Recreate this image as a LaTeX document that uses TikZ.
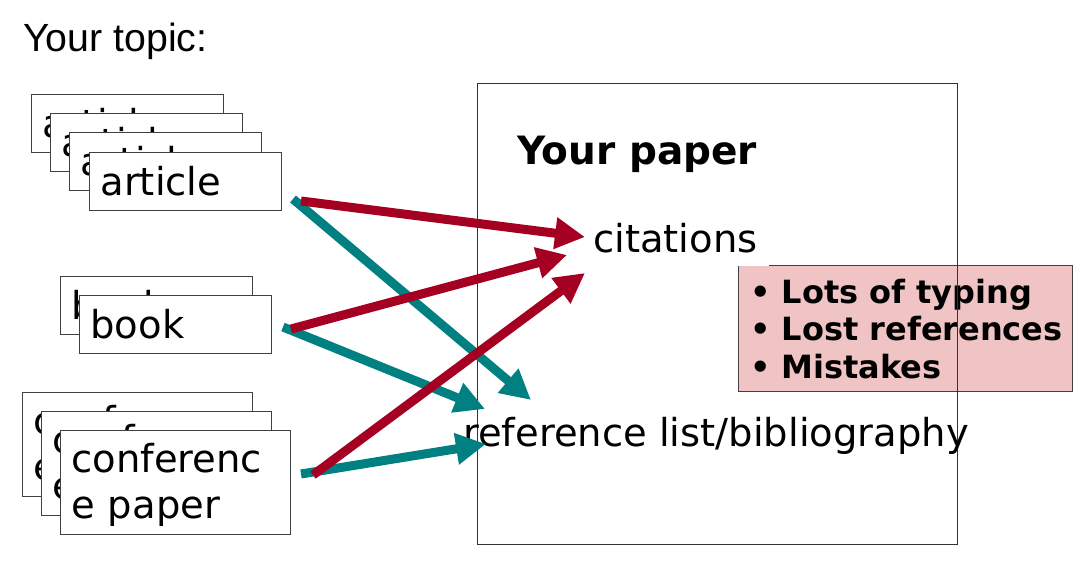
\documentclass[tikz,border=0pt]{standalone}
\usepackage{fontspec}
\setmainfont{DejaVu Sans}
\newfontfamily\topicfont{Liberation Sans}
\usetikzlibrary{arrows.meta}
\definecolor{citered}{HTML}{A50021}
\definecolor{listteal}{HTML}{008080}
\definecolor{issuepink}{RGB}{240,196,196}
\begin{document}
\begin{tikzpicture}[x=1pt,y=-1pt,
    srcbox/.style={draw=black!75, line width=1pt, fill=white, anchor=north west, inner xsep=11pt, inner ysep=0pt, align=left, font=\fontsize{38.5}{46}\selectfont},
    smallsrc/.style={srcbox, text width=170pt, minimum height=58pt},
    bigsrc/.style={srcbox, text width=208pt, minimum height=104pt, text height=35pt},
    bigtext/.style={inner sep=0pt, anchor=base west, font=\fontsize{38.5}{46}\selectfont},
    citearrow/.style={-{Triangle[length=30pt,width=30pt]}, line width=9pt, citered},
    listarrow/.style={-{Triangle[length=30pt,width=30pt]}, line width=9pt, listteal}]
        \useasboundingbox (0,0) rectangle (1078,585);

        \node[draw=black!75, line width=1pt, fill=issuepink, minimum width=334pt, minimum height=126pt, anchor=north west, inner sep=0pt] at (738,265) (issues) {};
        \node[inner sep=0pt, anchor=base west, align=left, font=\fontsize{32}{37.5}\selectfont\bfseries] at (750,378) (issuelist) {• Lots of typing\\• Lost references\\• Mistakes};
        \node[draw=black!80, line width=1pt, minimum width=480pt, minimum height=461pt, anchor=north west, inner sep=0pt] at (477,83) (paper) {};
        \node[bigtext, font=\fontsize{39}{46}\selectfont\bfseries] at (517,165) (title) {Your paper};
        \node[bigtext, fill=white, inner xsep=11pt, inner ysep=13pt] at (582,252) (cite) {citations};
        \node[bigtext] at (463,446) (reflist) {reference list/bibliography};
        \node[bigtext, font=\topicfont\fontsize{39.3}{46}\selectfont] at (23,52) (topic) {Your topic:};

        \node[smallsrc] at (31,94) (art1) {article};
        \node[smallsrc] at (50,113) (art2) {article};
        \node[smallsrc] at (69,132) (art3) {article};
        \node[smallsrc] at (89,152) (art4) {article};
        \node[smallsrc] at (60,276) (bk1) {book};
        \node[smallsrc] at (79,295) (bk2) {book};
        \node[bigsrc] at (22,392) (conf1) {conferenc\\e paper};
        \node[bigsrc] at (41,411) (conf2) {conferenc\\e paper};
        \node[bigsrc] at (60,430) (conf3) {conferenc\\e paper};

        \coordinate (artT) at (293,199);
        \coordinate (artR) at (301,201);
        \coordinate (bkT) at (283,327);
        \coordinate (bkR) at (291,329);
        \coordinate (confT) at (301,474);
        \coordinate (confR) at (313,475);
        \coordinate (citeA) at (585,237);
        \coordinate (citeB) at (567,255);
        \coordinate (citeC) at (585,273);
        \coordinate (refA) at (531,400);
        \coordinate (refB) at (485,409);
        \coordinate (refC) at (486,444);

        \draw[listarrow] (artT)--(refA);
        \draw[listarrow] (bkT)--(refB);
        \draw[listarrow] (confT)--(refC);
        \draw[citearrow] (artR)--(citeA);
        \draw[citearrow] (bkR)--(citeB);
        \draw[citearrow] (confR)--(citeC);
      \end{tikzpicture}
\end{document}
